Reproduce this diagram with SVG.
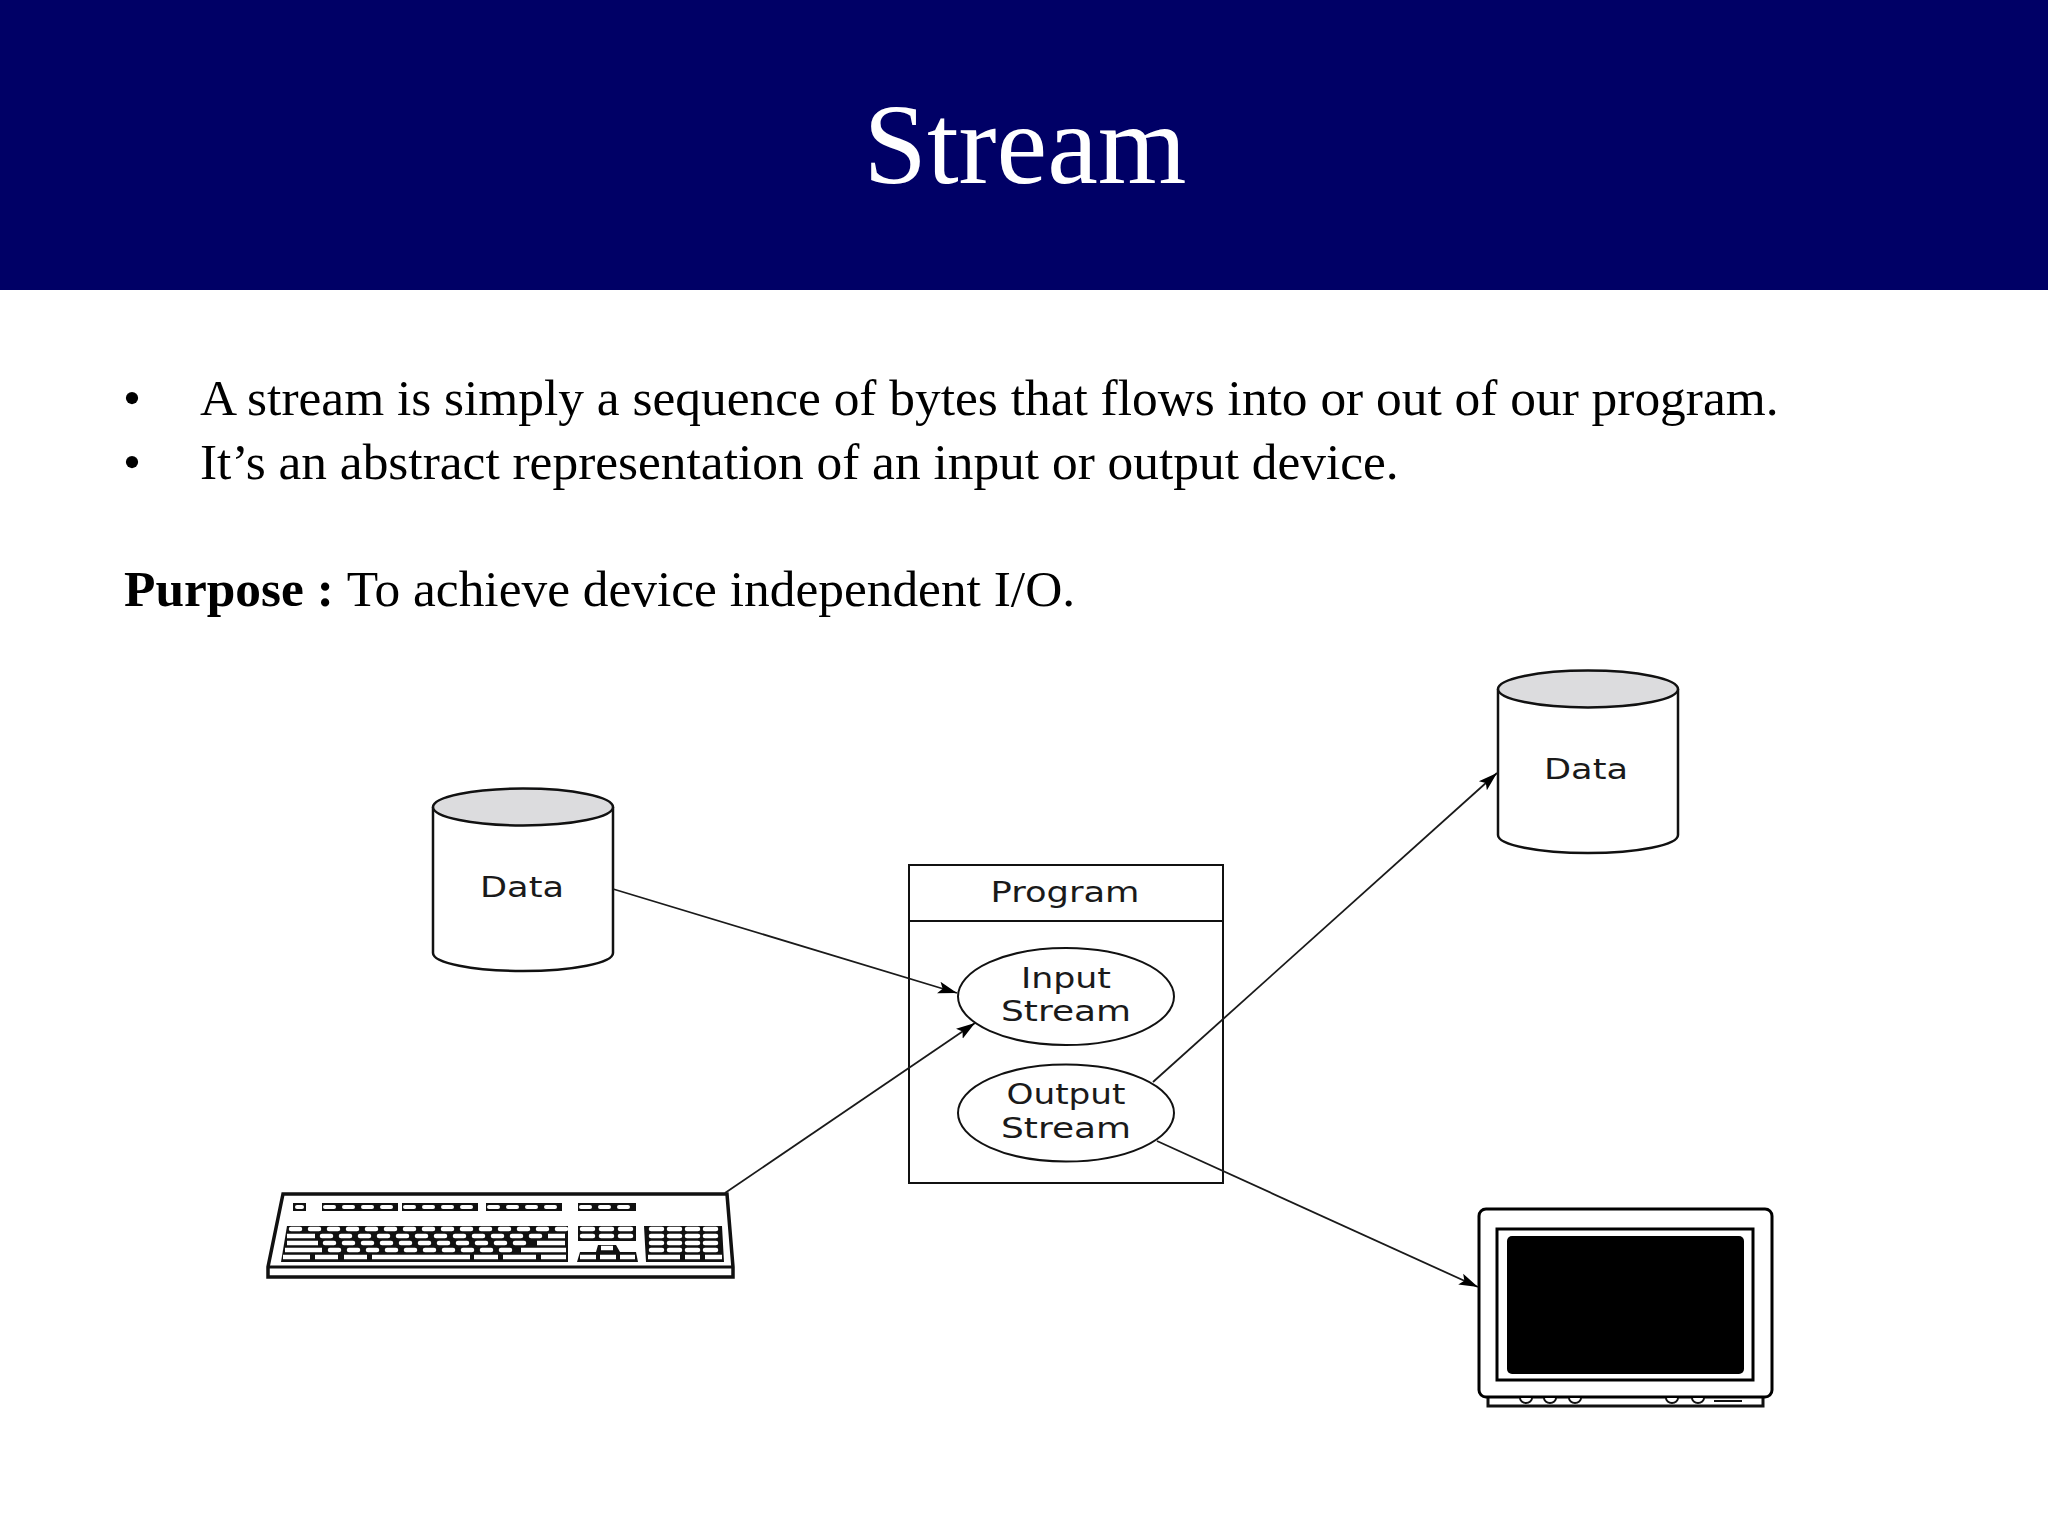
<svg xmlns="http://www.w3.org/2000/svg" width="2048" height="1536" viewBox="0 0 2048 1536">
<style>
.t{font-family:"Liberation Serif","Times New Roman",serif;fill:#000;font-size:51.400px}
.d{font-family:"DejaVu Sans",Verdana,sans-serif;fill:#1a1a1a;font-size:28px;text-anchor:middle}
.s{fill:#fff;stroke:#111;stroke-width:2}
.o{fill:#fff;stroke:#000;stroke-width:3}
.c{stroke:#1a1a1a;stroke-width:1.800;fill:none;marker-end:url(#a)}
.k{fill:none;stroke:#fff;stroke-width:4.500}
.r{fill:none;stroke:#fff;stroke-width:4.500;stroke-linecap:round;stroke-dasharray:9 10}
.n{fill:none;stroke:#fff;stroke-width:4.500;stroke-linecap:round;stroke-dasharray:11 8}
.m{fill:none;stroke:#fff;stroke-width:4.500;stroke-linecap:round;stroke-dasharray:11 7}
.b{fill:none;stroke:#111;stroke-width:8}
</style>
<defs>
<marker id="a" markerUnits="userSpaceOnUse" markerWidth="20" markerHeight="14" refX="19" refY="6" orient="auto" viewBox="0 0 20 12"><path d="M0 0L19 6L0 12L4 6Z" fill="#000"/></marker>
<g id="cyl">
<path d="M-90 0V146A90 18 0 0 0 90 146V0" fill="#fff" stroke="#111" stroke-width="2.500"/>
<ellipse cx="0" cy="0" rx="90" ry="18.500" fill="#dcdcde" stroke="#111" stroke-width="2.500"/>
</g>
</defs>
<rect width="2048" height="290" fill="#000066"/>
<text id="title" x="1025" y="183" text-anchor="middle" font-family="Liberation Serif,Times New Roman,serif" font-size="114" fill="#fff">Stream</text>
<g id="body">
<text class="t" x="123" y="415">•</text><text class="t" x="200" y="415">A stream is simply a sequence of bytes that flows into or out of our program.</text>
<text class="t" x="123" y="479">•</text><text class="t" x="200" y="479">It’s an abstract representation of an input or output device.</text>
<text class="t" x="124" y="606"><tspan font-weight="bold">Purpose : </tspan>To achieve device independent I/O.</text>
</g>
<g id="data-in"><use href="#cyl" x="523" y="807"/><text class="d" x="522" y="897" textLength="84" lengthAdjust="spacingAndGlyphs">Data</text></g>
<g id="data-out"><use href="#cyl" x="1588" y="689"/><text class="d" x="1586" y="779" textLength="84" lengthAdjust="spacingAndGlyphs">Data</text></g>
<g id="program">
<rect class="s" x="909" y="865" width="314" height="318"/>
<path class="s" d="M909 921H1223"/>
<text class="d" x="1065" y="902" textLength="149" lengthAdjust="spacingAndGlyphs">Program</text>
</g>
<g id="input-stream"><ellipse class="s" cx="1066" cy="996.500" rx="108" ry="48.500"/><text class="d" x="1066" y="988" textLength="90" lengthAdjust="spacingAndGlyphs">Input</text><text class="d" x="1066" y="1021" textLength="130" lengthAdjust="spacingAndGlyphs">Stream</text></g>
<g id="output-stream"><ellipse class="s" cx="1066" cy="1113" rx="108" ry="48.500"/><text class="d" x="1066" y="1104" textLength="119" lengthAdjust="spacingAndGlyphs">Output</text><text class="d" x="1066" y="1138" textLength="130" lengthAdjust="spacingAndGlyphs">Stream</text></g>
<g id="keyboard">
<path d="M283 1194H727L733 1267V1277H268V1267Z" fill="#fff" stroke="#111" stroke-width="3.500"/>
<path d="M268 1267H733" stroke="#111" stroke-width="3" fill="none"/>
<path class="b" d="M293 1207H306M322 1207H398M402 1207H478M486 1207H562M578 1207H636"/>
<path class="k" style="stroke-width:4;stroke-linecap:round" d="M297 1207H302"/>
<path class="r" style="stroke-width:4" d="M325 1207H398M405 1207H478M489 1207H562M581 1207H636"/>
<path d="M287 1226H568V1262H281Z" fill="#111"/>
<path d="M578 1226H636V1241H578ZM644 1226H722L724 1262H646ZM598 1245H616L620 1252H636L638 1262H577L580 1252H596Z" fill="#111"/>
<path class="r" d="M291 1229H566"/>
<path class="k" d="M287 1236H315M287 1243H318M285 1250H322M283 1257H310M315 1257H338M344 1257H367M372 1257H470M474 1257H498M503 1257H536M541 1257H566M521 1250H566M548 1236H565"/>
<path class="r" d="M322 1236H540"/>
<path class="r" d="M325 1243H530"/>
<path class="k" d="M537 1243H565"/>
<path class="r" d="M330 1250H516"/>
<path class="n" d="M582 1229H634M582 1236H634"/>
<path class="m" d="M651 1229H720M651 1236H720M651 1243H720M651 1250H720"/>
<path class="k" d="M648 1257H680M685 1257H700M705 1257H722"/>
<path class="k" d="M601 1248H613M580 1257H596M600 1257H616M620 1257H635"/>
</g>
<g id="monitor">
<path d="M1488 1395H1763V1406H1488Z" fill="#fff" stroke="#111" stroke-width="3"/>
<rect class="o" x="1479" y="1209" width="293" height="188" rx="7"/>
<rect class="o" x="1497" y="1229" width="256" height="151"/>
<rect x="1507" y="1236" width="237" height="138" rx="5" fill="#000"/>
<path fill="#fff" stroke="#111" stroke-width="2" d="M1520 1398a6 5 0 0 0 12 0M1544 1398a6 5 0 0 0 12 0M1569 1398a6 5 0 0 0 12 0M1666 1398a6 5 0 0 0 12 0M1692 1398a6 5 0 0 0 12 0M1714 1401H1742"/>
</g>
<g id="connectors">
<path class="c" d="M613 889L957 993"/>
<path class="c" d="M725 1193L975 1023"/>
<path class="c" d="M1153 1082L1497 773"/>
<path class="c" d="M1157 1141L1478 1287"/>
</g>
</svg>
